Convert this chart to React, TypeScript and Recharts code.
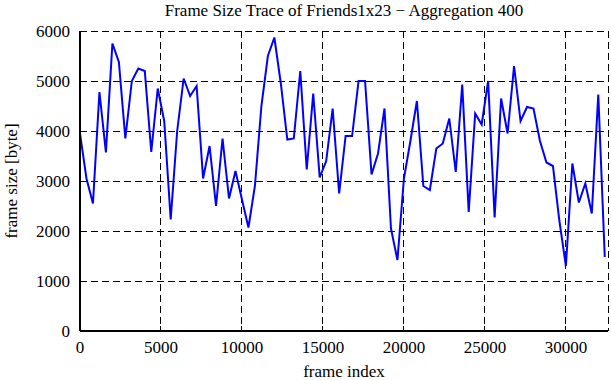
import { CartesianGrid, Line, LineChart, XAxis, YAxis } from "recharts";

// frame size trace, one value per 400 frames
const AGGREGATION = 400;
const frameSize = [
  3950, 3050, 2550, 4780, 3570, 5750, 5380, 3850, 5000, 5250,
  5200, 3580, 4850, 4200, 2230, 4000, 5050, 4700, 4900, 3050,
  3700, 2500, 3850, 2650, 3200, 2630, 2070, 2900, 4500, 5500,
  5870, 4950, 3830, 3850, 5200, 3230, 4750, 3070, 3400, 4450,
  2750, 3900, 3900, 5000, 5000, 3130, 3550, 4450, 2050, 1420,
  3050, 3800, 4600, 2900, 2820, 3650, 3750, 4250, 3180, 4930,
  2380, 4350, 4130, 5000, 2270, 4650, 3950, 5300, 4200, 4480,
  4450, 3800, 3370, 3300, 2200, 1300, 3350, 2570, 2950, 2350,
  4730, 1480,
];
const xTicks = [0, 5000, 10000, 15000, 20000, 25000, 30000];
const yTicks = [0, 1000, 2000, 3000, 4000, 5000, 6000];
const X_MAX = 32600;

const chartData = frameSize.map((v, i) => ({ frame: i * AGGREGATION, size: v }));

const serif = '"Liberation Serif", "DejaVu Serif", serif';
const frame = { stroke: "#000", strokeWidth: 2 };
const tickLine = { stroke: "#000", strokeWidth: 1, shapeRendering: "crispEdges" };
const tickText = { fill: "#000", fontSize: 17, fontFamily: serif };

if (typeof document !== "undefined") document.body.style.margin = "0";

export default function App() {
  return (
    <div style={{ position: "relative", width: 611, height: 380, background: "#fff" }}>
      <div
        style={{
          position: "absolute",
          left: 80,
          width: 528,
          top: 1,
          textAlign: "center",
          fontFamily: serif,
          fontSize: 17,
          color: "#000",
        }}
      >
        Frame Size Trace of Friends1x23 − Aggregation 400
      </div>
      <LineChart width={611} height={380} data={chartData} margin={{ top: 31, right: 3, left: 0, bottom: 0 }}>
        <CartesianGrid
          xAxisId="b"
          yAxisId="l"
          stroke="#000"
          strokeDasharray="7 4"
          shapeRendering="crispEdges"
        />
        <XAxis
          xAxisId="b"
          dataKey="frame"
          type="number"
          domain={[0, X_MAX]}
          ticks={xTicks}
          interval={0}
          allowDataOverflow
          orientation="bottom"
          height={49}
          tickSize={-5}
          tickMargin={15}
          axisLine={frame}
          tickLine={tickLine}
          tick={tickText}
          label={{
            content: ({ viewBox }: any) => (
              <text
                x={viewBox.x + viewBox.width / 2}
                y={viewBox.y + 46}
                textAnchor="middle"
                fontFamily={serif}
                fontSize={17}
                fill="#000"
              >
                frame index
              </text>
            ),
          }}
        />
        <XAxis
          xAxisId="t"
          dataKey="frame"
          type="number"
          domain={[0, X_MAX]}
          ticks={xTicks}
          interval={0}
          allowDataOverflow
          orientation="top"
          height={0}
          tickSize={-5}
          axisLine={frame}
          tickLine={tickLine}
          tick={false}
        />
        <YAxis
          yAxisId="l"
          type="number"
          domain={[0, 6000]}
          ticks={yTicks}
          interval={0}
          allowDataOverflow
          width={80}
          tickSize={-5}
          tickMargin={15}
          axisLine={frame}
          tickLine={tickLine}
          tick={tickText}
          label={{
            content: ({ viewBox }: any) => {
              const cx = 17;
              const cy = viewBox.y + viewBox.height / 2;
              return (
                <text
                  x={cx}
                  y={cy}
                  transform={`rotate(-90, ${cx}, ${cy})`}
                  textAnchor="middle"
                  fontFamily={serif}
                  fontSize={17}
                  fill="#000"
                >
                  frame size [byte]
                </text>
              );
            },
          }}
        />
        <YAxis
          yAxisId="r"
          orientation="right"
          type="number"
          domain={[0, 6000]}
          ticks={yTicks}
          interval={0}
          allowDataOverflow
          width={0}
          tickSize={-5}
          axisLine={frame}
          tickLine={tickLine}
          tick={false}
        />
        <Line
          xAxisId="b"
          yAxisId="l"
          type="linear"
          dataKey="size"
          stroke="#0000ff"
          strokeWidth={2}
          dot={false}
          isAnimationActive={false}
        />
      </LineChart>
    </div>
  );
}
